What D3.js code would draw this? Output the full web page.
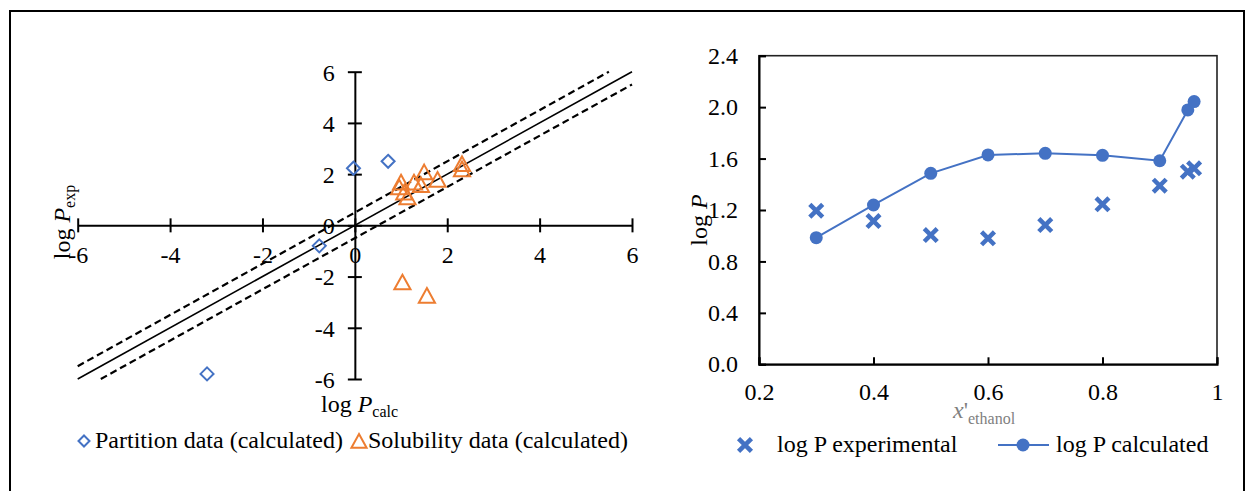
<!DOCTYPE html>
<html><head><meta charset="utf-8">
<script src="https://cdn.jsdelivr.net/npm/d3@7"></script>
<style>
body{margin:0;background:#fff;}
svg{display:block;font-family:"Liberation Serif","Times New Roman",serif;}
</style></head>
<body>
<svg id="c" width="1246" height="491"></svg>
<script>
// ---- Left chart data ----
const partitionCalc = [-0.03, 0.72, -0.77, -3.2];
const partitionExp  = [2.23, 2.5, -0.8, -5.8];
const solubilityCalc = [2.32, 2.32, 1.50, 1.79, 1.00, 1.28, 1.43, 0.96, 1.07, 1.14, 1.03, 1.56];
const solubilityExp  = [2.36, 2.16, 2.04, 1.75, 1.64, 1.64, 1.54, 1.45, 1.25, 1.06, -2.26, -2.78];
const leftTicks = [-6, -4, -2, 0, 2, 4, 6];
const refLineOffsets = [0, 0.5, -0.5];

// ---- Right chart data ----
const xEthanol = [0.3, 0.4, 0.5, 0.6, 0.7, 0.8, 0.9, 0.949, 0.96];
const logPExperimental = [1.194, 1.114, 1.005, 0.98, 1.083, 1.244, 1.389, 1.498, 1.524];
const logPCalculated  = [0.985, 1.239, 1.485, 1.628, 1.641, 1.625, 1.583, 1.978, 2.043];
const rightXTicks = [0.2, 0.4, 0.6, 0.8, 1.0];
const rightXTickLabels = ["0.2", "0.4", "0.6", "0.8", "1"];
const rightYTicks = [0, 0.4, 0.8, 1.2, 1.6, 2.0, 2.4];

const BLUE = "#4472C4", ORANGE = "#ED7D31";
const FONT = "Liberation Serif";
const FS = 24;
const svg = d3.select("#c");

// outer frame
svg.append("rect").attr("x", 10).attr("y", 11).attr("width", 1234).attr("height", 490)
  .attr("fill", "none").attr("stroke", "#000").attr("stroke-width", 2);

// ================= LEFT =================
const xL = d3.scaleLinear().domain([-6, 6]).range([77.7, 632]);
const yL = d3.scaleLinear().domain([-6, 6]).range([379, 71.7]);
const L = svg.append("g");

// x axis at y=0
const xAxisL = L.append("g").attr("transform", `translate(0,${yL(0)})`)
  .call(d3.axisBottom(xL).tickValues(leftTicks).tickSize(0).tickFormat(d3.format("d")));
xAxisL.select(".domain").attr("stroke", "#000").attr("stroke-width", 2);
xAxisL.selectAll(".tick line").remove();
xAxisL.selectAll(".tick").append("line").attr("y1", -7).attr("y2", 7).attr("stroke", "#000").attr("stroke-width", 2);
xAxisL.selectAll(".tick text").attr("y", 0).attr("dy", 0).attr("transform", "translate(0,38)")
  .attr("font-size", FS).attr("font-family", FONT).attr("fill", "#000")
  .text(d => d < 0 ? "-" + Math.abs(d) : d);

// y axis at x=0
const yAxisL = L.append("g").attr("transform", `translate(${xL(0)},0)`)
  .call(d3.axisLeft(yL).tickValues(leftTicks).tickSize(0));
yAxisL.select(".domain").attr("stroke", "#000").attr("stroke-width", 2);
yAxisL.selectAll(".tick line").remove();
yAxisL.selectAll(".tick").append("line").attr("x1", -7).attr("x2", 7).attr("stroke", "#000").attr("stroke-width", 2);
yAxisL.selectAll(".tick text").attr("x", -20).attr("dy", "0.35em")
  .attr("font-size", FS).attr("font-family", FONT).attr("fill", "#000")
  .text(d => d < 0 ? "-" + Math.abs(d) : d);

// reference lines
refLineOffsets.forEach(off => {
  const x0 = Math.max(-6, -6 - off), x1 = Math.min(6, 6 - off);
  L.append("line")
    .attr("x1", xL(x0)).attr("y1", yL(x0 + off))
    .attr("x2", xL(x1)).attr("y2", yL(x1 + off))
    .attr("stroke", "#000").attr("stroke-width", off === 0 ? 1.6 : 2.2)
    .attr("stroke-dasharray", off === 0 ? null : "7,4");
});

// partition diamonds
const diamond = s => `M0,${-s}L${s},0L0,${s}L${-s},0Z`;
L.append("g").selectAll("path").data(partitionCalc).join("path")
  .attr("d", diamond(6.5))
  .attr("transform", (d, i) => `translate(${xL(d)},${yL(partitionExp[i])})`)
  .attr("fill", "none").attr("stroke", BLUE).attr("stroke-width", 2);

// solubility triangles
const tri = s => `M0,${-s}L${s*0.95},${s*0.72}L${-s*0.95},${s*0.72}Z`;
L.append("g").selectAll("path").data(solubilityCalc).join("path")
  .attr("d", tri(8.5))
  .attr("transform", (d, i) => `translate(${xL(d)},${yL(solubilityExp[i])})`)
  .attr("fill", "none").attr("stroke", ORANGE).attr("stroke-width", 2);

// axis titles
const ytL = L.append("text").attr("transform", "translate(70,222) rotate(-90)")
  .attr("text-anchor", "middle").attr("font-size", FS).attr("fill", "#000");
ytL.append("tspan").text("log ");
ytL.append("tspan").attr("font-style", "italic").text("P");
ytL.append("tspan").attr("font-size", 16).attr("dy", 5).text("exp");

const xtL = L.append("text").attr("x", 321).attr("y", 412)
  .attr("font-size", FS).attr("fill", "#000");
xtL.append("tspan").text("log ");
xtL.append("tspan").attr("font-style", "italic").text("P");
xtL.append("tspan").attr("font-size", 16).attr("dy", 5).text("calc");

// legend left
L.append("path").attr("d", diamond(5.5)).attr("transform", "translate(84,441)")
  .attr("fill", "none").attr("stroke", BLUE).attr("stroke-width", 2);
L.append("text").attr("x", 95).attr("y", 448).attr("font-size", FS).attr("fill", "#000")
  .text("Partition data (calculated)");
L.append("path").attr("d", tri(8)).attr("transform", "translate(359,442)")
  .attr("fill", "none").attr("stroke", ORANGE).attr("stroke-width", 2);
L.append("text").attr("x", 368).attr("y", 448).attr("font-size", FS).attr("fill", "#000")
  .text("Solubility data (calculated)");

// ================= RIGHT =================
const xR = d3.scaleLinear().domain([0.2, 1.0]).range([759, 1217]);
const yR = d3.scaleLinear().domain([0, 2.4]).range([364.3, 55.7]);
const R = svg.append("g");

// plot area border
R.append("rect").attr("x", xR(0.2)).attr("y", yR(2.4))
  .attr("width", xR(1) - xR(0.2)).attr("height", yR(0) - yR(2.4))
  .attr("fill", "none").attr("stroke", "#222").attr("stroke-width", 1.6);

const xAxisR = R.append("g").attr("transform", `translate(0,${yR(0)})`)
  .call(d3.axisBottom(xR).tickValues(rightXTicks).tickSize(-7).tickPadding(19)
    .tickFormat((d, i) => rightXTickLabels[i]));
xAxisR.select(".domain").attr("stroke", "#000").attr("stroke-width", 2);
xAxisR.selectAll(".tick line").attr("stroke", "#000").attr("stroke-width", 2);
xAxisR.selectAll(".tick text").attr("font-size", FS).attr("font-family", FONT).attr("fill", "#000");

const yAxisR = R.append("g").attr("transform", `translate(${xR(0.2)},0)`)
  .call(d3.axisLeft(yR).tickValues(rightYTicks).tickSize(-7).tickPadding(21).tickFormat(d3.format(".1f")));
yAxisR.select(".domain").attr("stroke", "#000").attr("stroke-width", 2);
yAxisR.selectAll(".tick line").attr("stroke", "#000").attr("stroke-width", 2);
yAxisR.selectAll(".tick text").attr("font-size", FS).attr("font-family", FONT).attr("fill", "#000");

// calculated line
R.append("path").datum(xEthanol)
  .attr("d", d3.line().x(d => xR(d)).y((d, i) => yR(logPCalculated[i])))
  .attr("fill", "none").attr("stroke", BLUE).attr("stroke-width", 2);
R.append("g").selectAll("circle").data(xEthanol).join("circle")
  .attr("cx", d => xR(d)).attr("cy", (d, i) => yR(logPCalculated[i])).attr("r", 6.5)
  .attr("fill", BLUE);

// experimental X markers
const xMark = d3.symbol().type(d3.symbolX).size(110);
R.append("g").selectAll("path").data(xEthanol).join("path")
  .attr("d", xMark())
  .attr("transform", (d, i) => `translate(${xR(d)},${yR(logPExperimental[i])})`)
  .attr("fill", "none").attr("stroke", BLUE).attr("stroke-width", 4.5);

// axis titles
const ytR = R.append("text").attr("transform", "translate(707,220) rotate(-90)")
  .attr("text-anchor", "middle").attr("font-size", FS).attr("fill", "#000");
ytR.append("tspan").text("log ");
ytR.append("tspan").attr("font-style", "italic").text("P");

const xtR = R.append("text").attr("x", 953).attr("y", 418)
  .attr("font-size", FS).attr("fill", "#7f7f7f");
xtR.append("tspan").attr("font-style", "italic").text("x");
xtR.append("tspan").text("'");
xtR.append("tspan").attr("font-size", 16).attr("dy", 6).text("ethanol");

// legend right
R.append("path").attr("d", xMark()).attr("transform", "translate(745,445)")
  .attr("fill", "none").attr("stroke", BLUE).attr("stroke-width", 4.5);
R.append("text").attr("x", 777).attr("y", 452).attr("font-size", FS).attr("fill", "#000")
  .text("log P experimental");
R.append("line").attr("x1", 998).attr("x2", 1049).attr("y1", 445).attr("y2", 445)
  .attr("stroke", BLUE).attr("stroke-width", 2);
R.append("circle").attr("cx", 1023).attr("cy", 445).attr("r", 6.5).attr("fill", BLUE);
R.append("text").attr("x", 1056).attr("y", 452).attr("font-size", FS).attr("fill", "#000")
  .text("log P calculated");
</script>
</body></html>
